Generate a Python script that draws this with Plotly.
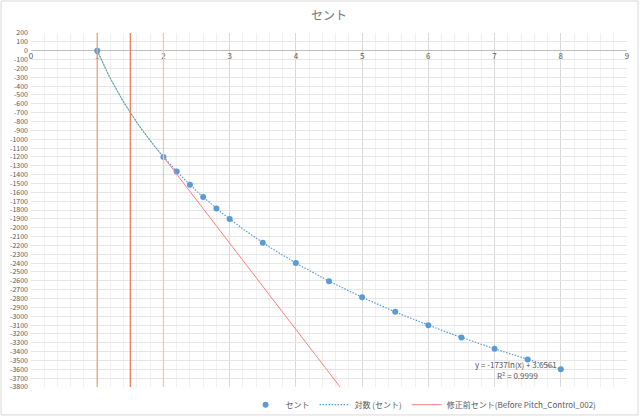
"""Cents vs. frequency ratio, Excel-style scatter with a log trendline."""

import numpy as np
import plotly.graph_objects as go

# Data
ratio = [1, 2, 2.2, 2.4, 2.6, 2.8, 3, 3.5, 4, 4.5, 5, 5.5, 6, 6.5, 7, 7.5, 8]
cents = [0, -1200, -1365, -1515, -1654, -1783, -1902, -2169, -2400,
         -2604, -2786, -2951, -3102, -3241, -3369, -3488, -3600]

before_x = [2, 5]
before_y = [-1200, -4125]

marker_lines = [1, 1.5, 2]
marker_line_colors = ["#f2a285", "#ee7d5c", "#fac6b3"]

y_ticks = list(range(200, -3900, -100))
y_ticktext = [str(v) for v in y_ticks]
x_ticks = list(range(0, 10))

trend_label = "y = -1737ln(x) + 3.6561"
r2_label = "R² = 0.9999"

FONT = "Noto Sans CJK JP"
GREY = "#595959"

# log trendline fitted from the points (like Excel does)
slope, icpt = np.polyfit(np.log(ratio), cents, 1)
tx = np.linspace(1, 8, 200)
ty = slope * np.log(tx) + icpt
gx = np.linspace(1, 2, 60)
gy = slope * np.log(gx) + icpt

fig = go.Figure()

fig.add_trace(go.Scatter(
    x=gx, y=gy, mode="lines", showlegend=False, hoverinfo="skip",
    line=dict(color="#8fcf8a", width=1),
))
fig.add_trace(go.Scatter(
    x=ratio, y=cents, mode="markers", name="セント",
    marker=dict(color="#5b9bd5", size=6),
))
fig.add_trace(go.Scatter(
    x=tx, y=ty, mode="lines", name="対数 (セント)",
    line=dict(color="#5b9bd5", width=1.2, dash="1.5px,1.5px"),
))
fig.add_trace(go.Scatter(
    x=before_x, y=before_y, mode="lines",
    name="修正前セント(Before Pitch_Control_002)",
    line=dict(color="#ff7f7f", width=1),
))

for xv, col in zip(marker_lines, marker_line_colors):
    fig.add_shape(type="line", xref="x", yref="paper", x0=xv, x1=xv, y0=0, y1=1,
                  line=dict(color=col, width=1.3), layer="above")

# Excel chart-area border
fig.add_shape(type="rect", xref="paper", yref="paper",
              x0=-0.0503, x1=1.0185, y0=-0.079, y1=1.0904,
              line=dict(color="#d9d9d9", width=1))

fig.add_annotation(x=7.33, y=-3549, text=trend_label, showarrow=False,
                   font=dict(size=8, color=GREY, family=FONT))
fig.add_annotation(x=7.34, y=-3673, text=r2_label, showarrow=False,
                   font=dict(size=8, color=GREY, family=FONT))

fig.update_xaxes(
    range=[0, 9], tickvals=x_ticks, anchor="free", position=0.951,
    showline=False, zeroline=False, ticks="",
    tickfont=dict(size=8, color=GREY, family=FONT),
    showgrid=True, gridcolor="#d9d9d9", gridwidth=1,
    minor=dict(dtick=0.2, showgrid=True, gridcolor="#f0f0f0", gridwidth=1),
)
fig.update_yaxes(
    range=[-3800, 200], tickvals=y_ticks, ticktext=y_ticktext,
    showline=False, zeroline=True, zerolinecolor="#bfbfbf", zerolinewidth=1,
    tickfont=dict(size=7, color=GREY, family=FONT), ticklabelstandoff=2,
    showgrid=True, gridcolor="#e6e6e6", gridwidth=1,
)

fig.update_layout(
    width=640, height=417,
    margin=dict(l=31, r=13, t=33, b=30, autoexpand=False),
    paper_bgcolor="white", plot_bgcolor="white",
    title=dict(text="セント", x=0.5, xref="paper", y=0.963, yanchor="middle",
               font=dict(size=12, color="#767676", family=FONT)),
    font=dict(family=FONT, color=GREY),
    legend=dict(orientation="h", x=0.36, xanchor="left", y=-0.05, yanchor="middle",
                font=dict(size=8, color=GREY, family=FONT),
                itemwidth=30, tracegroupgap=0, bgcolor="rgba(0,0,0,0)"),
    showlegend=True,
)

fig.write_html("out.html", config={"displayModeBar": False},
               post_script="document.body.style.margin='0px';")
